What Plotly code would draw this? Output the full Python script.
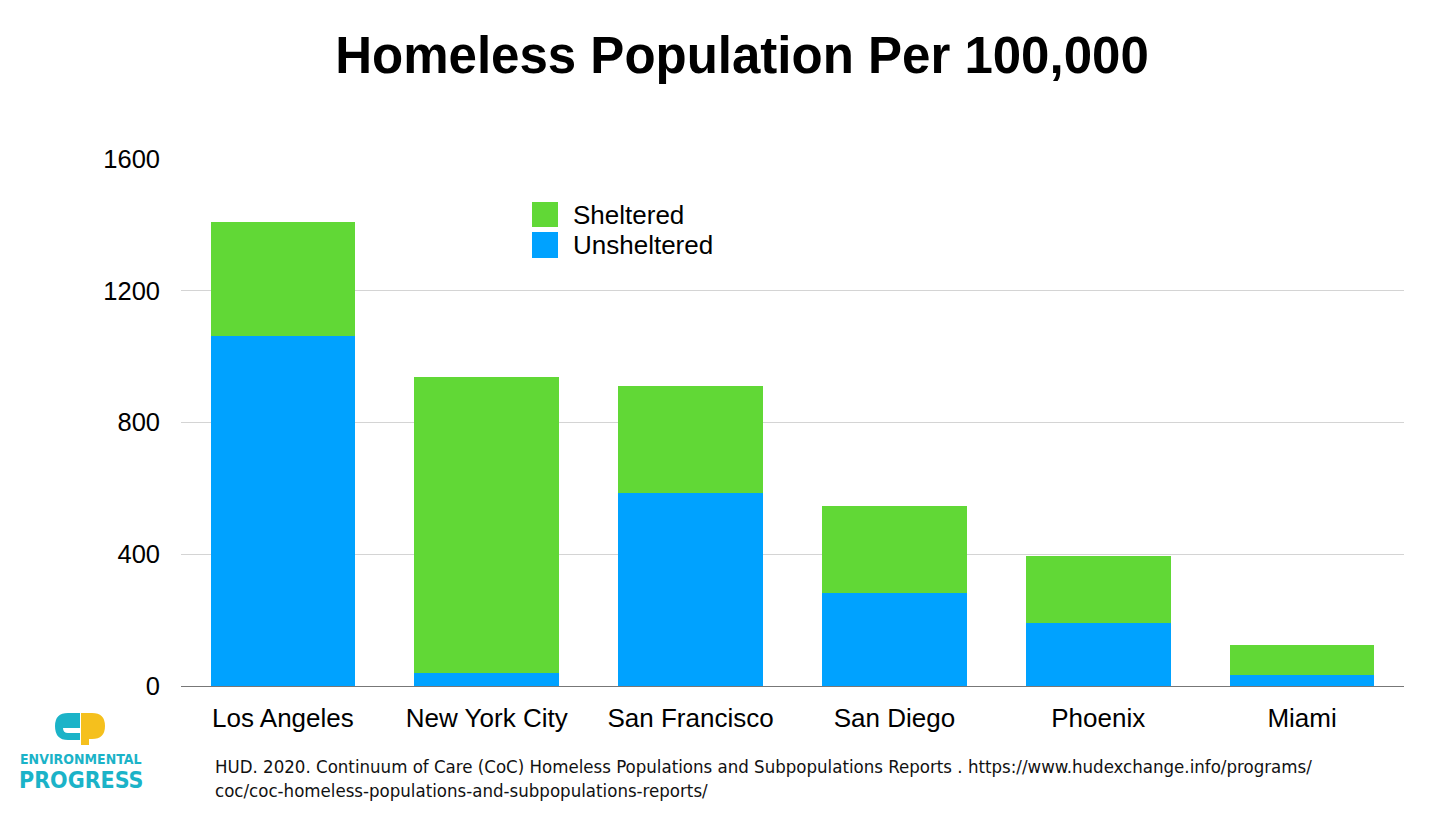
import plotly.graph_objects as go

cities = ["Los Angeles", "New York City", "San Francisco", "San Diego", "Phoenix", "Miami"]
unsheltered = [1063, 40, 587, 283, 192, 34]
sheltered = [346, 897, 323, 265, 203, 91]
y_ticks = [0, 400, 800, 1200, 1600]

GREEN = "#61d836"
BLUE = "#00a2ff"
TEAL = "#1bb3c8"
FONT = "Liberation Sans, Arial, Helvetica, sans-serif"
NARROW = "Liberation Sans Narrow, DejaVu Sans Condensed, Roboto Condensed, sans-serif"

fig = go.Figure()
fig.add_trace(go.Bar(x=cities, y=unsheltered, name="Unsheltered", marker=dict(color=BLUE, line=dict(width=0))))
fig.add_trace(go.Bar(x=cities, y=sheltered, name="Sheltered", marker=dict(color=GREEN, line=dict(width=0))))

W, H = 1456, 816
L, R, T, B = 181, 52, 159, 130
pw = W - L - R
ph = H - T - B

def px(x):
    return (x - L) / pw

def py(y):
    return (H - B - y) / ph

shapes = [
    dict(type="rect", xref="paper", yref="paper", x0=px(532), x1=px(558), y0=py(227), y1=py(202),
         fillcolor=GREEN, line=dict(width=0)),
    dict(type="rect", xref="paper", yref="paper", x0=px(532), x1=px(558), y0=py(258), y1=py(232),
         fillcolor=BLUE, line=dict(width=0)),
]

annotations = [
    dict(text="Sheltered", xref="paper", yref="paper", x=px(571), y=py(215), xanchor="left", yanchor="middle",
         showarrow=False, font=dict(family=FONT, size=26, color="#000")),
    dict(text="Unsheltered", xref="paper", yref="paper", x=px(571), y=py(245), xanchor="left", yanchor="middle",
         showarrow=False, font=dict(family=FONT, size=26, color="#000")),
    dict(text="HUD. 2020. Continuum of Care (CoC) Homeless Populations and Subpopulations Reports . https://www.hudexchange.info/programs/<br>coc/coc-homeless-populations-and-subpopulations-reports/",
         xref="paper", yref="paper", x=px(213), y=py(754), xanchor="left", yanchor="top", align="left",
         showarrow=False, font=dict(family=NARROW, size=18.5, color="#111")),
    dict(text="<b>ENVIRONMENTAL</b>", xref="paper", yref="paper", x=px(81), y=py(759), xanchor="center", yanchor="middle",
         showarrow=False, font=dict(family=NARROW, size=14, color=TEAL)),
    dict(text="<b>PROGRESS</b>", xref="paper", yref="paper", x=px(81), y=py(780), xanchor="center", yanchor="middle",
         showarrow=False, font=dict(family=NARROW, size=23, color=TEAL)),
]

# logo glyphs (teal "e", yellow "p")
shapes += [
    dict(type="path", xref="paper", yref="paper",
         path=f"M {px(80)},{py(713)} L {px(68)},{py(713)} Q {px(55)},{py(713)} {px(55)},{py(726)} Q {px(55)},{py(740)} {px(68)},{py(740)} L {px(80)},{py(740)} L {px(80)},{py(733)} L {px(68)},{py(733)} Q {px(63)},{py(733)} {px(63)},{py(728)} L {px(80)},{py(728)} Z",
         fillcolor=TEAL, line=dict(width=0)),
    dict(type="path", xref="paper", yref="paper",
         path=f"M {px(81)},{py(713)} L {px(92)},{py(713)} Q {px(105)},{py(713)} {px(105)},{py(726)} Q {px(105)},{py(739)} {px(92)},{py(739)} L {px(89)},{py(739)} L {px(89)},{py(745)} L {px(81)},{py(745)} Z",
         fillcolor="#f5c01d", line=dict(width=0)),
]

fig.update_layout(
    width=W, height=H,
    margin=dict(l=L, r=R, t=T, b=B, pad=0),
    barmode="stack", bargap=0.29,
    plot_bgcolor="white", paper_bgcolor="white",
    showlegend=False,
    title=dict(text="<b>Homeless Population Per 100,000</b>", x=742 / W, xanchor="center", xref="container",
               y=1 - 55 / H, yanchor="middle", yref="container",
               font=dict(family=FONT, size=51, color="#000")),
    font=dict(family=FONT, color="#000"),
    shapes=shapes, annotations=annotations,
    xaxis=dict(showline=True, linecolor="#777", linewidth=1.3, ticks="", tickfont=dict(size=26, color="#000"),
               ticklabelstandoff=9, showgrid=False),
    yaxis=dict(range=[0, 1600], tickvals=y_ticks, showgrid=True, gridcolor="#d4d4d4", gridwidth=1,
               zeroline=False, ticks="", tickfont=dict(size=25.5, color="#000"), ticklabelstandoff=20),
)

fig.write_html("out.html", config={"displayModeBar": False},
               post_script="document.body.style.margin='0';document.body.style.padding='0';")
